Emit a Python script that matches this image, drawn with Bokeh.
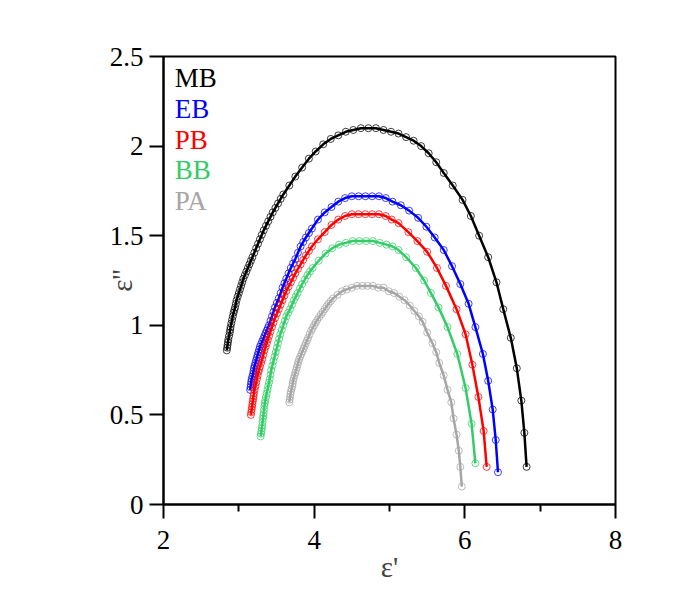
from bokeh.plotting import figure
from bokeh.models import FixedTicker, NumeralTickFormatter, ColumnDataSource
from bokeh.core.properties import value
from bokeh.embed import file_html
from bokeh.resources import INLINE

# ---------------- data ----------------
mb_x = [2.84, 2.845, 2.85, 2.855, 2.86, 2.87, 2.88, 2.885, 2.89, 2.90, 2.91, 2.92, 2.93, 2.94, 2.95,
        2.96, 2.97, 2.985, 3.00, 3.015, 3.03, 3.045, 3.06, 3.08, 3.10, 3.12, 3.14, 3.16, 3.18, 3.205,
        3.23, 3.255, 3.28, 3.305, 3.33, 3.36, 3.39, 3.42, 3.45, 3.485, 3.52, 3.555, 3.59,
        3.67, 3.75, 3.84, 3.93, 4.02, 4.12, 4.22, 4.32,
        4.42, 4.52, 4.62, 4.72, 4.82, 4.92, 5.02, 5.12, 5.22, 5.32, 5.42, 5.52, 5.62, 5.72, 5.84,
        5.97, 6.08, 6.19, 6.31, 6.42, 6.51, 6.61, 6.69, 6.75, 6.79, 6.82]
mb_y = [0.86, 0.875, 0.89, 0.905, 0.92, 0.94, 0.96, 0.975, 0.99, 1.01, 1.03, 1.05, 1.07, 1.085, 1.10,
        1.12, 1.14, 1.16, 1.18, 1.20, 1.22, 1.24, 1.26, 1.28, 1.30, 1.32, 1.34, 1.36, 1.38, 1.405,
        1.43, 1.455, 1.48, 1.505, 1.53, 1.555, 1.58, 1.605, 1.63, 1.655, 1.68, 1.705, 1.73,
        1.78, 1.83, 1.88, 1.93, 1.97, 2.01, 2.04, 2.06,
        2.08, 2.09, 2.10, 2.10, 2.10, 2.09, 2.08, 2.07, 2.05, 2.03, 2.00, 1.96, 1.91, 1.85, 1.78,
        1.70, 1.61, 1.50, 1.38, 1.24, 1.09, 0.93, 0.76, 0.58, 0.40, 0.21]

eb_x = [3.15, 3.155, 3.16, 3.165, 3.17, 3.18, 3.19, 3.195, 3.20, 3.21, 3.22, 3.23, 3.24, 3.25, 3.26,
        3.27, 3.28, 3.295, 3.31, 3.325, 3.34, 3.355, 3.37, 3.385, 3.40, 3.42, 3.44, 3.46, 3.48, 3.505,
        3.53, 3.555, 3.58, 3.605, 3.63, 3.66, 3.69, 3.72, 3.75, 3.785, 3.82, 3.855, 3.89, 3.93, 3.97,
        4.05, 4.14, 4.23, 4.32, 4.41, 4.50, 4.59,
        4.68, 4.77, 4.86, 4.95, 5.04, 5.15, 5.26, 5.38, 5.49, 5.60, 5.72, 5.83, 5.94, 6.05, 6.14,
        6.24, 6.31, 6.37, 6.41, 6.44]
eb_y = [0.64, 0.655, 0.67, 0.685, 0.70, 0.715, 0.73, 0.745, 0.76, 0.775, 0.79, 0.805, 0.82, 0.835, 0.85,
        0.865, 0.88, 0.895, 0.91, 0.925, 0.94, 0.955, 0.97, 0.985, 1.00, 1.025, 1.05, 1.075, 1.10, 1.125,
        1.15, 1.18, 1.21, 1.235, 1.26, 1.29, 1.32, 1.345, 1.37, 1.405, 1.44, 1.465, 1.49, 1.515, 1.54,
        1.59, 1.63, 1.66, 1.69, 1.71, 1.72, 1.72,
        1.72, 1.72, 1.72, 1.71, 1.69, 1.67, 1.64, 1.60, 1.55, 1.49, 1.42, 1.33, 1.23, 1.12, 0.99,
        0.84, 0.69, 0.53, 0.36, 0.18]

pb_x = [3.16, 3.165, 3.17, 3.175, 3.18, 3.185, 3.19, 3.195, 3.20, 3.21, 3.22, 3.23, 3.24, 3.25, 3.26,
        3.27, 3.28, 3.295, 3.31, 3.325, 3.34, 3.355, 3.37, 3.385, 3.40, 3.42, 3.44, 3.46, 3.48, 3.505,
        3.53, 3.555, 3.58, 3.605, 3.63, 3.66, 3.69, 3.72, 3.75, 3.785, 3.82, 3.855, 3.89, 3.93, 3.97,
        4.05, 4.14, 4.23, 4.32, 4.41, 4.50, 4.59,
        4.68, 4.77, 4.86, 4.95, 5.03, 5.12, 5.25, 5.37, 5.50, 5.63, 5.75, 5.89, 6.01, 6.10, 6.18,
        6.25, 6.29]
pb_y = [0.50, 0.515, 0.53, 0.545, 0.56, 0.575, 0.59, 0.605, 0.62, 0.64, 0.66, 0.68, 0.70, 0.72, 0.74,
        0.755, 0.77, 0.79, 0.81, 0.835, 0.86, 0.88, 0.90, 0.92, 0.94, 0.965, 0.99, 1.015, 1.04, 1.065,
        1.09, 1.115, 1.14, 1.165, 1.19, 1.215, 1.24, 1.265, 1.29, 1.315, 1.34, 1.365, 1.39, 1.415, 1.44,
        1.48, 1.52, 1.56, 1.59, 1.61, 1.62, 1.62,
        1.62, 1.62, 1.62, 1.61, 1.59, 1.57, 1.52, 1.47, 1.41, 1.32, 1.22, 1.09, 0.95, 0.78, 0.60,
        0.41, 0.21]

bb_x = [3.29, 3.295, 3.30, 3.305, 3.31, 3.315, 3.32, 3.325, 3.33, 3.335, 3.34, 3.345, 3.35, 3.36, 3.37,
        3.38, 3.39, 3.40, 3.41, 3.42, 3.43, 3.445, 3.46, 3.475, 3.49, 3.505, 3.52, 3.535, 3.55, 3.57,
        3.59, 3.61, 3.63, 3.655, 3.68, 3.705, 3.73, 3.755, 3.78, 3.81, 3.84, 3.875, 3.91, 3.945, 3.98,
        4.06, 4.15, 4.24, 4.33, 4.42, 4.51, 4.60,
        4.69, 4.78, 4.87, 4.96, 5.04, 5.12, 5.22, 5.35, 5.46, 5.55, 5.65, 5.77, 5.90, 6.01, 6.09,
        6.14]
bb_y = [0.38, 0.395, 0.41, 0.425, 0.44, 0.46, 0.48, 0.495, 0.51, 0.53, 0.55, 0.565, 0.58, 0.60, 0.62,
        0.64, 0.66, 0.68, 0.70, 0.725, 0.75, 0.775, 0.80, 0.825, 0.85, 0.875, 0.90, 0.925, 0.95, 0.975,
        1.00, 1.025, 1.05, 1.07, 1.09, 1.115, 1.14, 1.16, 1.18, 1.205, 1.23, 1.255, 1.28, 1.30, 1.32,
        1.36, 1.40, 1.43, 1.45, 1.46, 1.47, 1.47,
        1.47, 1.47, 1.46, 1.45, 1.44, 1.42, 1.38, 1.32, 1.25, 1.18, 1.10, 0.99, 0.84, 0.65, 0.45,
        0.23]

pa_x = [3.67, 3.675, 3.68, 3.685, 3.69, 3.70, 3.71, 3.715, 3.72, 3.73, 3.74, 3.75, 3.76, 3.77, 3.78,
        3.79, 3.80, 3.815, 3.83, 3.845, 3.86, 3.875, 3.89, 3.905, 3.92, 3.94, 3.96, 3.98, 4.00, 4.02,
        4.04, 4.065, 4.09, 4.115, 4.14, 4.165, 4.19, 4.22, 4.25,
        4.31, 4.37, 4.43, 4.50, 4.57, 4.64, 4.71, 4.78, 4.85, 4.92,
        4.99, 5.06, 5.13, 5.20, 5.27, 5.33, 5.39, 5.44, 5.50, 5.57, 5.62, 5.66, 5.72, 5.77, 5.82,
        5.85, 5.89, 5.92, 5.94, 5.96]
pa_y = [0.57, 0.585, 0.60, 0.615, 0.63, 0.645, 0.66, 0.675, 0.69, 0.705, 0.72, 0.735, 0.75, 0.765, 0.78,
        0.795, 0.81, 0.825, 0.84, 0.855, 0.87, 0.885, 0.90, 0.915, 0.93, 0.95, 0.97, 0.985, 1.00, 1.015,
        1.03, 1.045, 1.06, 1.075, 1.09, 1.105, 1.12, 1.135, 1.15,
        1.17, 1.19, 1.20, 1.21, 1.22, 1.22, 1.22, 1.22, 1.21, 1.21,
        1.19, 1.18, 1.16, 1.14, 1.11, 1.08, 1.05, 1.02, 0.96, 0.90, 0.85, 0.79, 0.72, 0.64, 0.57,
        0.48, 0.39, 0.30, 0.21, 0.10]

names = ["MB", "EB", "PB", "BB", "PA"]
colors = ["#000000", "#0000ff", "#ff0000", "#33cc66", "#a6a6a6"]
series_x = [mb_x, eb_x, pb_x, bb_x, pa_x]
series_y = [mb_y, eb_y, pb_y, bb_y, pa_y]

x_ticks = [2, 4, 6, 8]
x_minor = [3, 5, 7]
y_ticks = [0, 0.5, 1, 1.5, 2, 2.5]

FONT = "Liberation Serif"

p = figure(frame_width=452, frame_height=448,
           min_border_left=163, min_border_right=62, min_border_top=56, min_border_bottom=94,
           x_range=(2, 8), y_range=(0, 2.5),
           output_backend="svg", toolbar_location=None)

p.xgrid.visible = False
p.ygrid.visible = False
p.outline_line_color = "black"
p.outline_line_width = 2
p.background_fill_color = "white"
p.border_fill_color = "white"

for ax in (p.xaxis[0], p.yaxis[0]):
    ax.axis_line_width = 2
    ax.axis_line_color = "black"
    ax.major_tick_line_width = 2
    ax.minor_tick_line_width = 2
    ax.major_tick_in = 0
    ax.major_tick_out = 14
    ax.minor_tick_in = 0
    ax.minor_tick_out = 7
    ax.major_label_text_font = FONT
    ax.major_label_text_font_size = "27px"
    ax.major_label_text_color = "black"
    ax.axis_label_text_font = FONT
    ax.axis_label_text_font_size = "29px"
    ax.axis_label_text_font_style = "normal"
    ax.formatter = NumeralTickFormatter(format="0.[0]")

p.xaxis[0].ticker = FixedTicker(ticks=x_ticks, minor_ticks=x_minor)
p.yaxis[0].ticker = FixedTicker(ticks=y_ticks, minor_ticks=[])
p.xaxis[0].axis_label = "ε'"
p.yaxis[0].axis_label = "ε''"
p.xaxis[0].major_label_standoff = 12
p.yaxis[0].major_label_standoff = 6
p.xaxis[0].axis_label_standoff = -1
p.yaxis[0].axis_label_standoff = -31

for xs, ys, c in zip(series_x, series_y, colors):
    src = ColumnDataSource(dict(x=xs, y=ys))
    p.line("x", "y", source=src, line_color=c, line_width=2.5)
    p.scatter("x", "y", source=src, marker="circle", size=7, fill_color=None,
              line_color=c, line_width=1, line_alpha=0.75)

# legend texts (names in their series colours)
leg_y = [2.38 - 0.172 * i for i in range(len(names))]
p.text(x=[2.15] * len(names), y=leg_y, text=names, text_color=colors,
       text_font=value(FONT), text_font_size="27px", text_baseline="middle", text_align="left")

open("out.html", "w").write(file_html(p, INLINE))
